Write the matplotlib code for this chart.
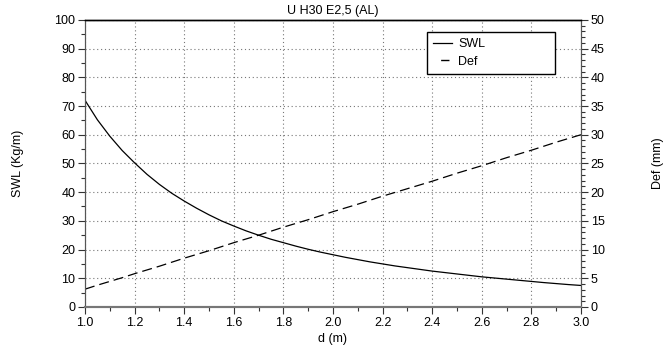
import numpy as np
import matplotlib.pyplot as plt
from matplotlib.ticker import MultipleLocator
from matplotlib.lines import Line2D

plt.rcParams['font.family'] = ['Liberation Sans', 'DejaVu Sans']

# values, every 0.05 m
d = [1.00, 1.05, 1.10, 1.15, 1.20, 1.25, 1.30, 1.35, 1.40, 1.45, 1.50, 1.55, 1.60, 1.65,
     1.70, 1.75, 1.80, 1.85, 1.90, 1.95, 2.00, 2.05, 2.10, 2.15, 2.20, 2.25, 2.30, 2.35,
     2.40, 2.45, 2.50, 2.55, 2.60, 2.65, 2.70, 2.75, 2.80, 2.85, 2.90, 2.95, 3.00]
swl = [72.0, 65.2, 59.5, 54.5, 50.2, 46.2, 42.7, 39.6, 36.9, 34.4, 32.1, 30.0, 28.2, 26.5,
       25.0, 23.6, 22.4, 21.2, 20.1, 19.1, 18.2, 17.3, 16.5, 15.7, 15.0, 14.3, 13.7, 13.1,
       12.5, 12.0, 11.5, 11.0, 10.5, 10.1, 9.7, 9.3, 8.9, 8.5, 8.15, 7.8, 7.5]
defl = [3.1, 3.8, 4.45, 5.1, 5.8, 6.45, 7.1, 7.8, 8.5, 9.15, 9.8, 10.5, 11.2, 11.85,
        12.5, 13.2, 13.9, 14.55, 15.2, 15.9, 16.6, 17.25, 17.9, 18.6, 19.3, 19.95, 20.6, 21.25,
        21.9, 22.6, 23.3, 23.95, 24.6, 25.3, 26.0, 26.65, 27.3, 28.0, 28.7, 29.35, 30.0]

fig = plt.figure(figsize=(6.64, 3.58), dpi=100)
ax = fig.add_axes([0.128, 0.1425, 0.747, 0.802])
ax2 = ax.twinx()

ax.plot(d, swl, color='black', lw=0.9)
ax2.plot(d, defl, color='black', lw=0.9, ls=(0, (8, 4)))

ax.set_xlim(1.0, 3.0)
ax.set_ylim(0, 100)
ax2.set_ylim(0, 50)
ax.xaxis.set_major_locator(MultipleLocator(0.2))
ax.xaxis.set_minor_locator(MultipleLocator(0.1))
ax.yaxis.set_major_locator(MultipleLocator(10))
ax.yaxis.set_minor_locator(MultipleLocator(5))
ax2.yaxis.set_major_locator(MultipleLocator(5))
ax2.yaxis.set_minor_locator(MultipleLocator(1))
ax.xaxis.set_major_formatter(plt.FormatStrFormatter('%.1f'))

for a in (ax, ax2):
    a.tick_params(which='major', direction='out', length=5, width=0.8, labelsize=9,
                  colors='#333333', labelcolor='black', pad=2)
    a.tick_params(which='minor', direction='out', length=3, width=0.8, colors='#333333')
    a.spines['bottom'].set_color('#777777')
    a.spines['bottom'].set_linewidth(1.5)
    a.spines['left'].set_color('#555555')
    a.spines['right'].set_color('#555555')
    a.spines['top'].set_linewidth(1.0)

ax.grid(True, which='major', ls=(0, (1, 2.5)), color='#777777', lw=0.8)

ax.set_title('U H30 E2,5 (AL)', fontsize=9, pad=4)
ax.set_xlabel('d (m)', fontsize=9, labelpad=3)
ax.set_ylabel('SWL (Kg/m)', fontsize=9, labelpad=22)
ax2.set_ylabel('Def (mm)', fontsize=9, labelpad=34)

# legend handles: solid line and a single centred dash
h1 = Line2D([], [], color='black', lw=0.9)
h2 = Line2D([], [], color='black', lw=1.0, ls=(20.5, (6, 20)))
leg = ax.legend([h1, h2], ['SWL', 'Def'], loc='upper left',
                bbox_to_anchor=(0.690, 0.958, 0.258, 0.0), mode='expand',
                fontsize=9, fancybox=False, edgecolor='black', framealpha=1,
                handlelength=1.5, handletextpad=0.5, borderpad=0.5,
                labelspacing=0.44, borderaxespad=0)
leg.get_frame().set_linewidth(1.0)

fig.savefig('out.png', dpi=100)
